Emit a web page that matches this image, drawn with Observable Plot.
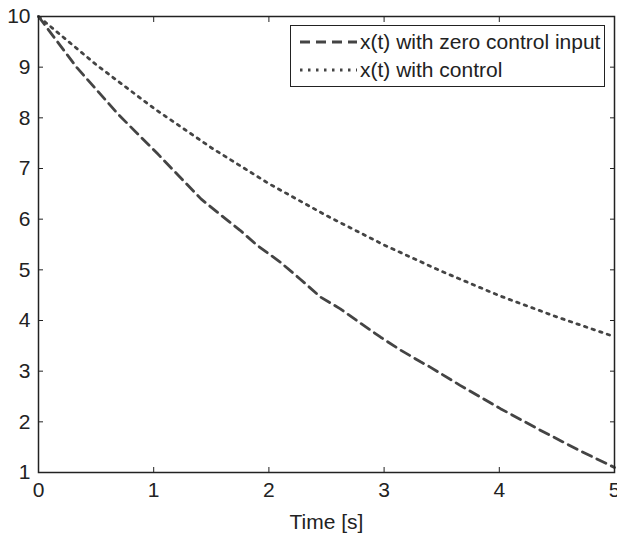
<!DOCTYPE html>
<html>
<head>
<meta charset="utf-8">
<script src="https://cdn.jsdelivr.net/npm/d3@7"></script>
<script src="https://cdn.jsdelivr.net/npm/@observablehq/plot@0.6"></script>
<style>
  body { margin: 0; background: #fff; }
  #wrap { position: relative; width: 617px; height: 533px; font-family: "Liberation Sans", Arial, sans-serif; }
  #legend { position: absolute; left: 290px; top: 25px; width: 315px; height: 62px; background: #fff; border: 1.5px solid #222; box-sizing: border-box; }
  #legend .row { position: absolute; left: 8px; height: 24px; display: flex; align-items: center; font-size: 21px; color: #222; white-space: nowrap; }
  #legend svg { margin-right: 3px; }
</style>
</head>
<body>
<div id="wrap"><div id="chart"></div>
<div id="legend">
  <div class="row" style="top:4px"><svg width="58" height="10"><line x1="1" y1="5" x2="58" y2="5" stroke="#444" stroke-width="2.8" stroke-dasharray="10,6"/></svg>x(t) with zero control input</div>
  <div class="row" style="top:32px"><svg width="58" height="10"><line x1="1" y1="5" x2="58" y2="5" stroke="#444" stroke-width="2.8" stroke-dasharray="2.5,5.5"/></svg>x(t) with control</div>
</div>
</div>
<script>
const seriesNames = ["x(t) with zero control input", "x(t) with control"];
const tZero = [0, 0.33, 0.70, 1.03, 1.41, 1.60, 1.75, 1.90, 2.10, 2.27, 2.45, 2.62, 2.80, 2.97, 3.14, 3.32, 3.40, 3.66, 4.01, 4.36, 4.70, 5.0];
const xZero = [10, 9.0, 8.05, 7.30, 6.40, 6.05, 5.78, 5.48, 5.15, 4.82, 4.46, 4.23, 3.94, 3.67, 3.42, 3.18, 3.08, 2.72, 2.26, 1.83, 1.43, 1.10];
const tCtrl = [0, 0.5, 1, 1.5, 2, 2.5, 3, 3.5, 4, 4.5, 5];
const xCtrl = [10, 9.05, 8.19, 7.41, 6.70, 6.07, 5.49, 4.97, 4.49, 4.07, 3.68];
const xTicks = [0, 1, 2, 3, 4, 5];
const yTicks = [1, 2, 3, 4, 5, 6, 7, 8, 9, 10];

const zero = tZero.map((t, i) => ({t, v: xZero[i]}));
const ctrl = tCtrl.map((t, i) => ({t, v: xCtrl[i]}));

const chart = Plot.plot({
  width: 617, height: 533,
  marginLeft: 38, marginRight: 3, marginTop: 16, marginBottom: 61,
  style: {fontFamily: "Liberation Sans, Arial, sans-serif", fontSize: "21px", color: "#222", background: "#fff"},
  x: {domain: [0, 5]},
  y: {domain: [1, 10]},
  marks: [
    Plot.line(zero, {x: "t", y: "v", stroke: "#444", strokeWidth: 2.8, strokeDasharray: "10,6"}),
    Plot.line(ctrl, {x: "t", y: "v", stroke: "#444", strokeWidth: 2.8, strokeDasharray: "2.5,5.5"}),
    Plot.frame({stroke: "#222", strokeWidth: 1.5}),
    Plot.axisX(xTicks, {anchor: "bottom", tickSize: -5, tickPadding: 15, tickFormat: d => String(d), stroke: "#222", fill: "#222", fontSize: 21, label: "Time [s]", labelAnchor: "center", labelArrow: "none", labelOffset: 56}),
    Plot.axisX(xTicks, {anchor: "top", tickSize: -5, tickFormat: () => "", stroke: "#222", label: null}),
    Plot.axisY(yTicks, {anchor: "left", tickSize: -5, tickPadding: 13, tickFormat: d => String(d), stroke: "#222", fill: "#222", fontSize: 21, label: null}),
    Plot.axisY(yTicks, {anchor: "right", tickSize: -5, tickFormat: () => "", stroke: "#222", label: null})
  ]
});
document.getElementById("chart").appendChild(chart);
</script>
</body>
</html>
